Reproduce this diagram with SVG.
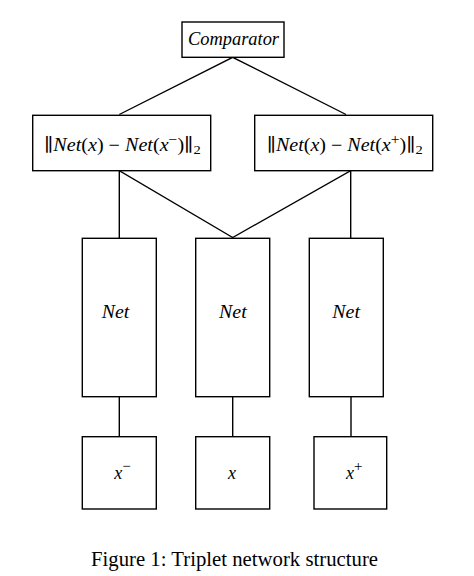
<svg xmlns="http://www.w3.org/2000/svg" width="474" height="576" viewBox="0 0 474 576">
<style>
.box{fill:#fff;stroke:#000;stroke-width:1.4}
.edge{fill:none;stroke:#000;stroke-width:1.4}
.m{font-family:"Liberation Serif","DejaVu Serif",serif;font-size:18px;fill:#000}
.i{font-style:italic}
.n{font-family:"DejaVu Serif",serif;font-style:normal}
.cap{font-family:"Liberation Serif",serif;font-size:20.5px;fill:#000}
</style>
<rect width="474" height="576" fill="#fff"/>
<g id="connectors">
<polyline class="edge" points="119.3,114.5 232.7,57.3 346,114.5"/>
<polyline class="edge" points="119.3,238.3 119.3,170.7 232.7,237.5 350.7,170.7 350.7,238.3"/>
<line class="edge" x1="119.3" y1="396.7" x2="119.3" y2="436.7"/>
<line class="edge" x1="232.7" y1="396.7" x2="232.7" y2="436.7"/>
<line class="edge" x1="351" y1="396.7" x2="351" y2="436.7"/>
</g>
<g id="comparator">
<rect class="box" x="182" y="22" width="102" height="35.3"/>
<text class="m i" x="188" y="45" textLength="91" lengthAdjust="spacingAndGlyphs">Comparator</text>
</g>
<g id="dist-neg">
<rect class="box" x="32.7" y="115.3" width="178" height="55.4"/>
<text class="m" x="44" y="150.5" textLength="156.7" lengthAdjust="spacingAndGlyphs"><tspan class="n">∥</tspan><tspan class="i">Net</tspan>(<tspan class="i">x</tspan>) − <tspan class="i">Net</tspan>(<tspan class="i">x</tspan><tspan font-size="14" dy="-7">−</tspan><tspan dy="7">)</tspan><tspan class="n">∥</tspan><tspan font-size="13" dy="3">2</tspan></text>
</g>
<g id="dist-pos">
<rect class="box" x="254.7" y="115.3" width="178" height="55.4"/>
<text class="m" x="266.7" y="150.5" textLength="156" lengthAdjust="spacingAndGlyphs"><tspan class="n">∥</tspan><tspan class="i">Net</tspan>(<tspan class="i">x</tspan>) − <tspan class="i">Net</tspan>(<tspan class="i">x</tspan><tspan font-size="14" dy="-7">+</tspan><tspan dy="7">)</tspan><tspan class="n">∥</tspan><tspan font-size="13" dy="3">2</tspan></text>
</g>
<g id="net-neg">
<rect class="box" x="82.3" y="238.3" width="74" height="158.4"/>
<text class="m i" x="101.7" y="318" textLength="27.6" lengthAdjust="spacingAndGlyphs">Net</text>
</g>
<g id="net-anchor">
<rect class="box" x="195.7" y="238.3" width="74" height="158.4"/>
<text class="m i" x="219" y="318" textLength="27.7" lengthAdjust="spacingAndGlyphs">Net</text>
</g>
<g id="net-pos">
<rect class="box" x="309.3" y="238.3" width="74" height="158.4"/>
<text class="m i" x="332.3" y="318" textLength="27.7" lengthAdjust="spacingAndGlyphs">Net</text>
</g>
<g id="input-neg">
<rect class="box" x="82.3" y="436.7" width="74" height="72.3"/>
<text class="m i" x="114.3" y="479">x<tspan font-style="normal" font-size="15" dy="-8">−</tspan></text>
</g>
<g id="input-anchor">
<rect class="box" x="195.7" y="436.7" width="74" height="72.3"/>
<text class="m i" x="228" y="479">x</text>
</g>
<g id="input-pos">
<rect class="box" x="314" y="436.7" width="72.7" height="72.3"/>
<text class="m i" x="346" y="479">x<tspan font-style="normal" font-size="15" dy="-8">+</tspan></text>
</g>
<text class="cap" x="91" y="566" textLength="287" lengthAdjust="spacingAndGlyphs">Figure 1: Triplet network structure</text>
</svg>
